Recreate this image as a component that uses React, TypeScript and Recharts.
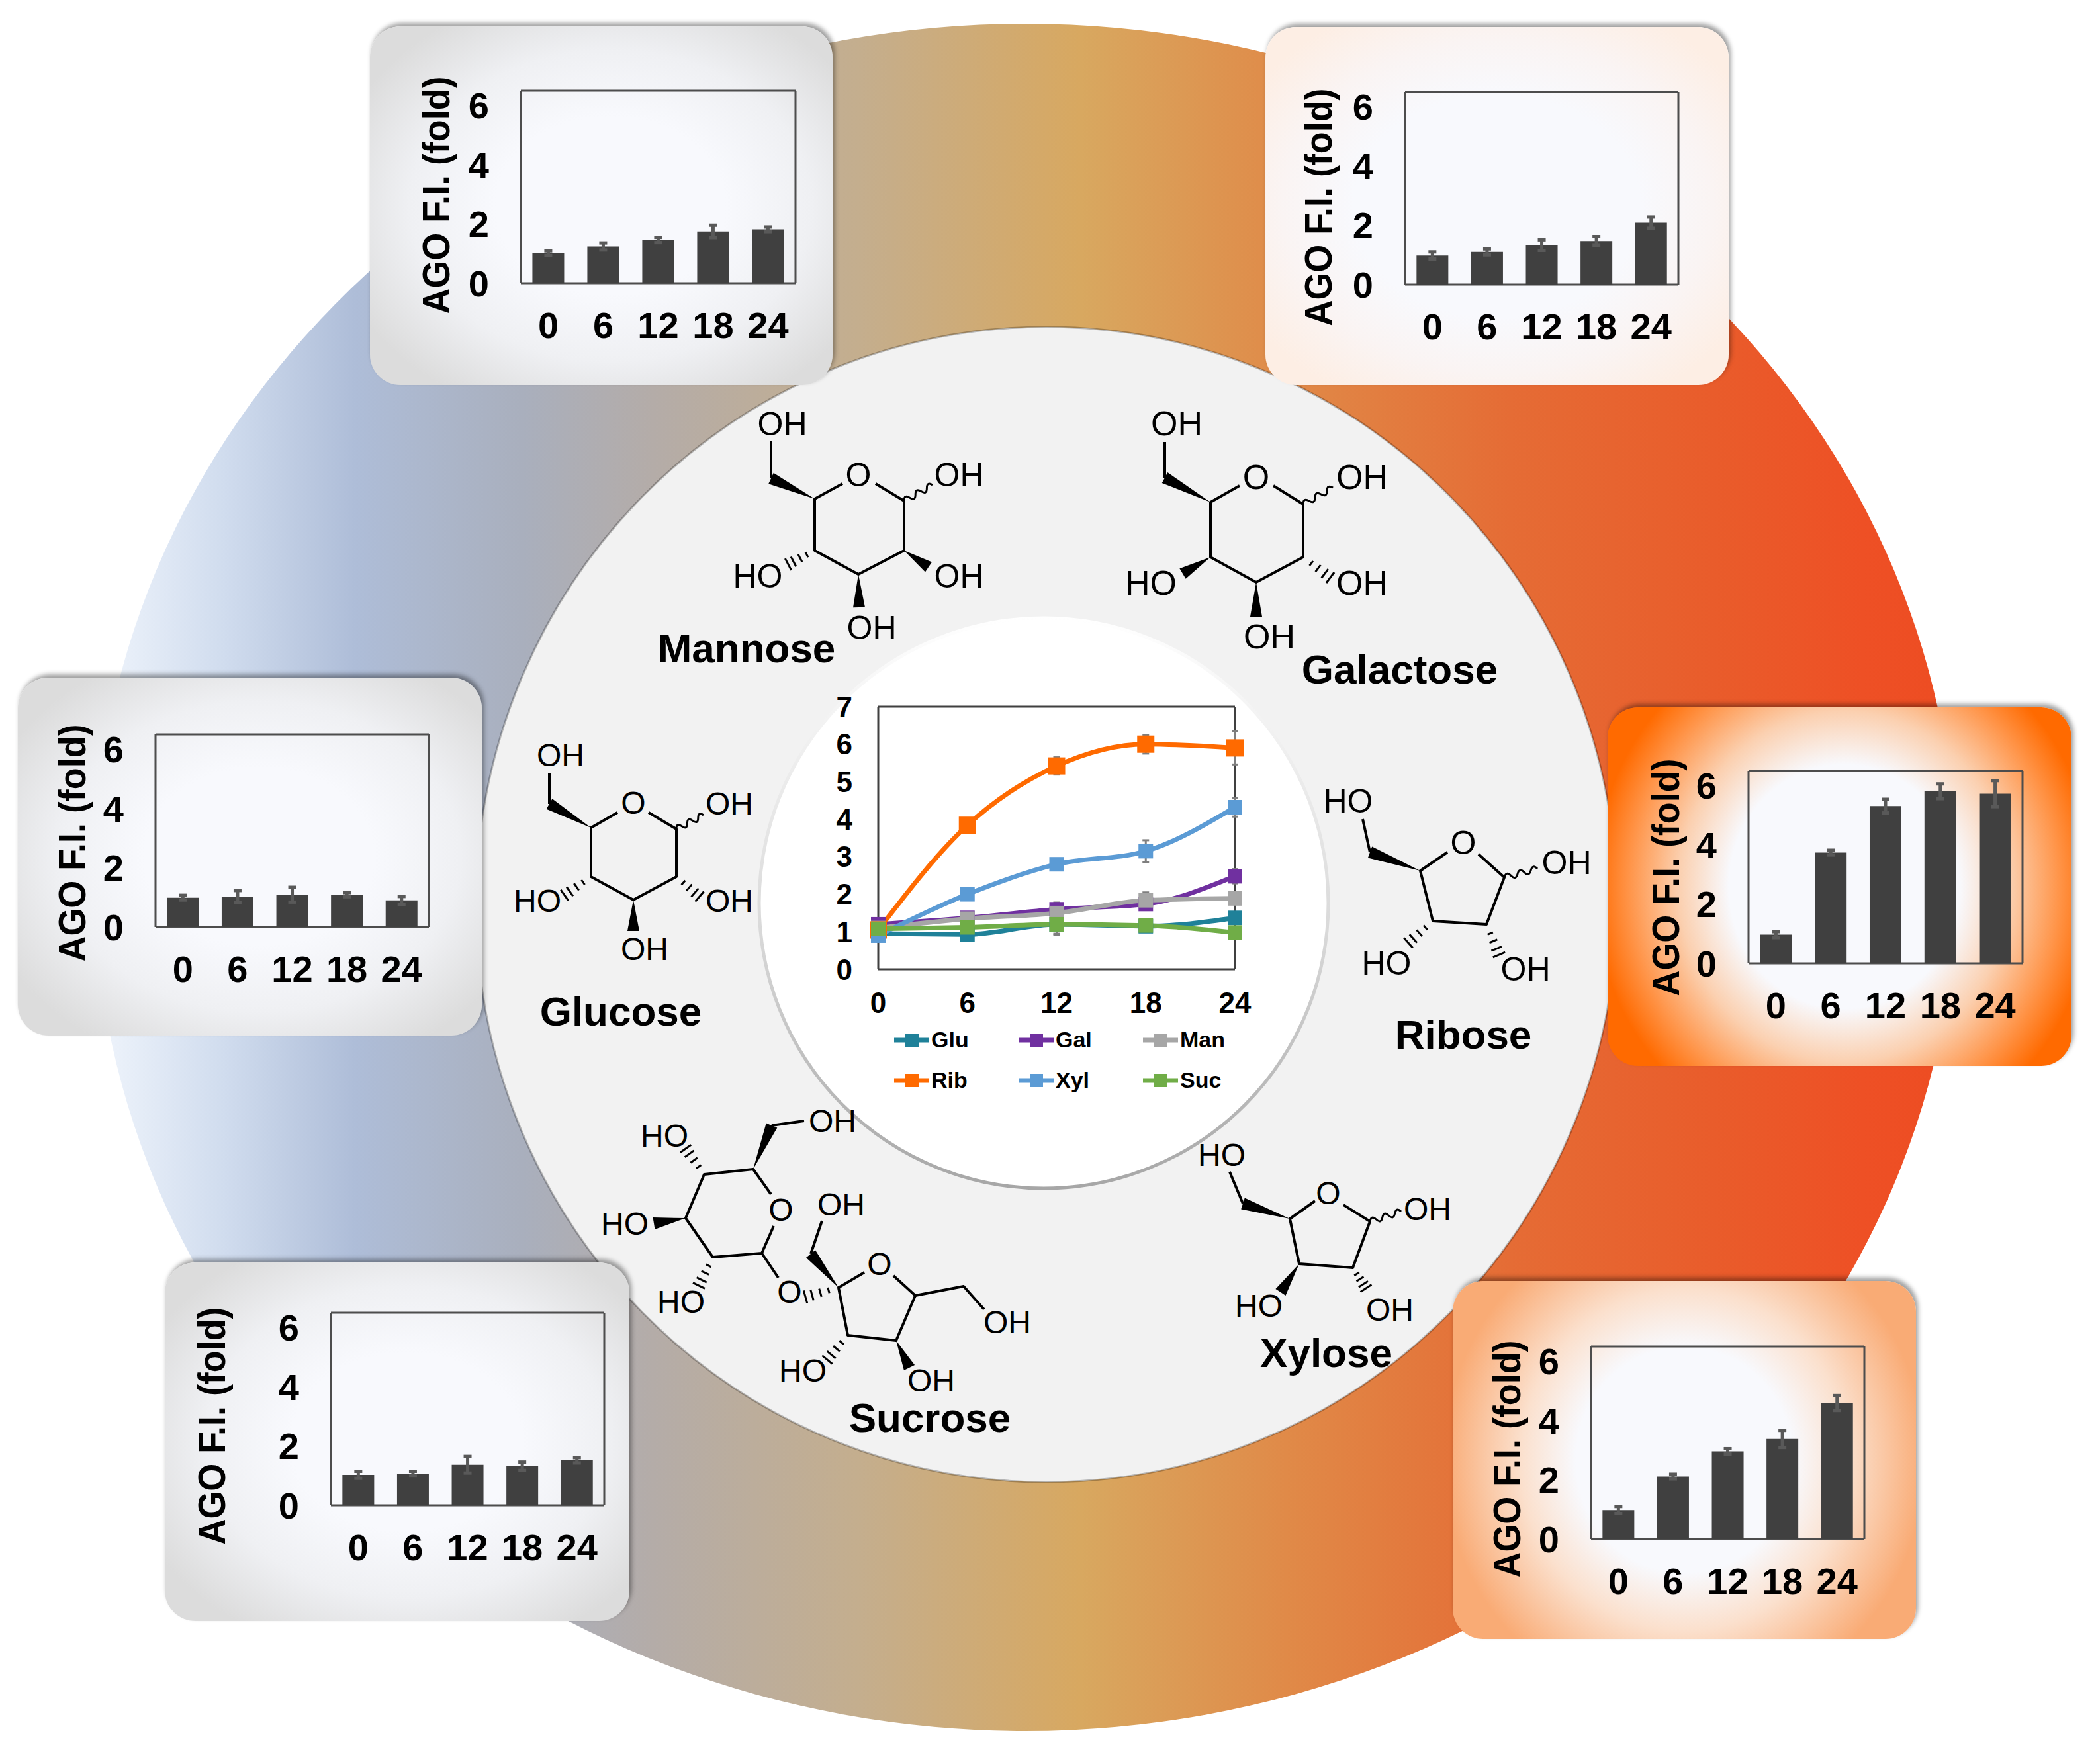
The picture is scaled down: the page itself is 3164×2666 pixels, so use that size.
import React from 'react';
import { BarChart, Bar, LineChart, Line, XAxis, YAxis, ErrorBar, CartesianGrid, Legend } from 'recharts';

const FONT = '"Liberation Sans", Arial, sans-serif';

const times = ['0', '6', '12', '18', '24'];
const barTicks = [0, 2, 4, 6];
const lineTicks = [0, 1, 2, 3, 4, 5, 6, 7];

// small bar panels
const manFold = [1.01, 1.24, 1.46, 1.75, 1.82];
const manErr = [0.08, 0.12, 0.09, 0.21, 0.08];
const galFold = [0.98, 1.1, 1.33, 1.47, 2.09];
const galErr = [0.12, 0.1, 0.18, 0.15, 0.19];
const gluFold = [0.99, 1.03, 1.09, 1.09, 0.9];
const gluErr = [0.08, 0.2, 0.25, 0.07, 0.13];
const ribFold = [0.97, 3.74, 5.31, 5.81, 5.73];
const ribErr = [0.1, 0.08, 0.23, 0.25, 0.44];
const sucFold = [1.03, 1.07, 1.37, 1.32, 1.52];
const sucErr = [0.12, 0.08, 0.28, 0.14, 0.09];
const xylFold = [0.98, 2.11, 2.96, 3.38, 4.59];
const xylErr = [0.12, 0.08, 0.09, 0.29, 0.25];

// centre line chart
const gluLine = [0.95, 0.93, 1.2, 1.15, 1.37];
const galLine = [1.2, 1.37, 1.6, 1.74, 2.48];
const manLine = [1.1, 1.35, 1.5, 1.84, 1.89];
const ribLine = [1.05, 3.84, 5.42, 6.0, 5.9];
const xylLine = [0.9, 2.0, 2.8, 3.15, 4.32];
const sucLine = [1.08, 1.12, 1.2, 1.17, 0.98];

const lineTable = times.map((time, i) => ({
  time,
  Glu: gluLine[i], GluErr: sucErr[i],
  Gal: galLine[i], GalErr: galErr[i],
  Man: manLine[i], ManErr: manErr[i],
  Rib: ribLine[i], RibErr: ribErr[i],
  Xyl: xylLine[i], XylErr: xylErr[i],
  Suc: sucLine[i], SucErr: gluErr[i],
}));

const GREY_BG = 'radial-gradient(ellipse 62% 62% at 52% 50%, #f8f9fd 40%, #eff0f3 70%, #dcdcdc 100%)';

const panels = [
  { key: 'man', x: 559, y: 40, w: 699, h: 542, plot: [787, 137, 1202, 428], titleX: 659, titleY: 295, fold: manFold, err: manErr, bg: GREY_BG },
  { key: 'gal', x: 1912, y: 41, w: 700, h: 541, plot: [2123, 139, 2536, 430], titleX: 1992, titleY: 313, fold: galFold, err: galErr, bg: 'radial-gradient(ellipse 62% 62% at 50% 50%, #f8f9fd 50%, #faf4f3 75%, #fdeee4 100%)' },
  { key: 'glu', x: 27, y: 1024, w: 701, h: 541, plot: [235, 1110, 648, 1401], titleX: 109, titleY: 1274, fold: gluFold, err: gluErr, bg: GREY_BG },
  { key: 'rib', x: 2429, y: 1069, w: 701, h: 542, plot: [2642, 1165, 3056, 1456], titleX: 2517, titleY: 1326, fold: ribFold, err: ribErr, bg: 'radial-gradient(ellipse 54% 74% at 51% 50%, #f8f9fd 46%, #fbd0b0 66%, #ff9448 86%, #ff6a00 100%)' },
  { key: 'suc', x: 249, y: 1908, w: 702, h: 542, plot: [500, 1984, 913, 2275], titleX: 320, titleY: 2155, fold: sucFold, err: sucErr, bg: GREY_BG },
  { key: 'xyl', x: 2195, y: 1936, w: 700, h: 541, plot: [2404, 2035, 2817, 2326], titleX: 2277, titleY: 2205, fold: xylFold, err: xylErr, bg: 'radial-gradient(ellipse 52% 70% at 50% 50%, #f8f9fd 45%, #fbe0cd 68%, #f9ab75 100%)' },
];

const lineSeries = [
  { key: 'Glu', color: '#1f8199', size: 22 },
  { key: 'Gal', color: '#7030a0', size: 22 },
  { key: 'Man', color: '#a6a6a6', size: 22 },
  { key: 'Rib', color: '#ff6a00', size: 26 },
  { key: 'Xyl', color: '#5b9bd5', size: 22 },
  { key: 'Suc', color: '#70ad47', size: 22 },
];
const legendOrder = lineSeries.map((s) => s.key);

type Seg = number[];
interface Molecule {
  size: number;
  bonds: Seg[]; // polylines
  wedges: Seg[];
  hashes: Seg[];
  wavy: Seg[];
  labels: [string, number, number][];
}

const molecules: Molecule[] = [
  { // mannose
    size: 50,
    bonds: [[1165, 723, 1165, 667], [1273, 731, 1231, 754, 1231, 832, 1297, 868, 1366, 832, 1366, 757, 1323, 731]],
    wedges: [[1231, 754, 1165, 723], [1366, 832, 1403, 857], [1297, 868, 1298, 918]],
    hashes: [[1231, 832, 1191, 853]],
    wavy: [[1366, 757, 1409, 733]],
    labels: [['OH', 1182, 640], ['O', 1297, 717], ['OH', 1449, 717], ['OH', 1449, 870], ['OH', 1317, 948], ['HO', 1145, 870]],
  },
  { // galactose
    size: 52,
    bonds: [[1760, 722, 1760, 668], [1873, 734, 1829, 759, 1829, 842, 1898, 880, 1969, 842, 1969, 762, 1924, 734]],
    wedges: [[1829, 759, 1760, 722], [1898, 880, 1898, 932], [1829, 842, 1787, 867]],
    hashes: [[1969, 842, 2010, 873]],
    wavy: [[1969, 762, 2014, 737]],
    labels: [['OH', 1778, 639], ['O', 1898, 720], ['OH', 2058, 720], ['OH', 2058, 880], ['OH', 1918, 961], ['HO', 1739, 880]],
  },
  { // glucose
    size: 48,
    bonds: [[830, 1215, 830, 1168], [933, 1228, 893, 1251, 893, 1325, 957, 1360, 1022, 1325, 1022, 1253, 980, 1228]],
    wedges: [[893, 1251, 830, 1215], [957, 1360, 957, 1407]],
    hashes: [[1022, 1325, 1057, 1355], [893, 1325, 853, 1353]],
    wavy: [[1022, 1253, 1063, 1232]],
    labels: [['OH', 847, 1141], ['O', 957, 1213], ['OH', 1102, 1214], ['OH', 1102, 1361], ['OH', 974, 1434], ['HO', 812, 1361]],
  },
  { // ribose
    size: 50,
    bonds: [[2070, 1288, 2059, 1238], [2187, 1288, 2146, 1316, 2165, 1392, 2246, 1397, 2273, 1326, 2234, 1291]],
    wedges: [[2146, 1316, 2070, 1288]],
    hashes: [[2246, 1397, 2265, 1443], [2165, 1392, 2128, 1425]],
    wavy: [[2273, 1326, 2323, 1313]],
    labels: [['HO', 2037, 1210], ['O', 2211, 1273], ['OH', 2367, 1303], ['OH', 2305, 1464], ['HO', 2095, 1455]],
  },
  { // xylose
    size: 48,
    bonds: [[1878, 1819, 1858, 1771], [1987, 1815, 1949, 1842, 1963, 1910, 2044, 1916, 2070, 1846, 2030, 1821]],
    wedges: [[1949, 1842, 1878, 1819], [1963, 1910, 1935, 1953]],
    hashes: [[2044, 1916, 2064, 1947]],
    wavy: [[2070, 1846, 2117, 1831]],
    labels: [['HO', 1846, 1745], ['O', 2007, 1803], ['OH', 2157, 1827], ['OH', 2100, 1979], ['HO', 1902, 1973]],
  },
  { // sucrose
    size: 48,
    bonds: [
      [1166, 1701, 1215, 1694], [1165, 1805, 1138, 1767, 1064, 1775, 1036, 1841, 1077, 1900, 1151, 1894, 1169, 1853],
      [1151, 1894, 1176, 1931], [1225, 1895, 1242, 1845],
      [1306, 1923, 1267, 1946, 1281, 2018, 1354, 2026, 1383, 1958, 1350, 1928], [1383, 1958, 1456, 1944, 1487, 1979],
    ],
    wedges: [[1138, 1767, 1166, 1701], [1036, 1841, 988, 1849], [1267, 1946, 1225, 1895], [1354, 2026, 1374, 2067]],
    hashes: [[1064, 1775, 1036, 1736], [1077, 1900, 1056, 1943], [1267, 1946, 1217, 1960], [1281, 2018, 1250, 2055]],
    wavy: [],
    labels: [
      ['OH', 1258, 1694], ['HO', 1004, 1716], ['HO', 944, 1849], ['O', 1180, 1828], ['HO', 1029, 1967], ['O', 1193, 1952],
      ['O', 1329, 1910], ['OH', 1271, 1820], ['OH', 1522, 1998], ['OH', 1407, 2086], ['HO', 1213, 2071],
    ],
  },
];

const sugarNames: [string, number, number][] = [
  ['Mannose', 1128, 979],
  ['Galactose', 2115, 1011],
  ['Glucose', 938, 1528],
  ['Ribose', 2211, 1563],
  ['Xylose', 2004, 2044],
  ['Sucrose', 1405, 2142],
];

const wedgePoints = ([x1, y1, x2, y2]: Seg, w = 9) => {
  const len = Math.hypot(x2 - x1, y2 - y1);
  const nx = (-(y2 - y1) / len) * w;
  const ny = ((x2 - x1) / len) * w;
  return `${x1},${y1} ${x2 + nx},${y2 + ny} ${x2 - nx},${y2 - ny}`;
};

const Hashes = ({ seg }: { seg: Seg }) => {
  const [x1, y1, x2, y2] = seg;
  const len = Math.hypot(x2 - x1, y2 - y1);
  const nx = -(y2 - y1) / len;
  const ny = (x2 - x1) / len;
  return (
    <g stroke="#000" strokeWidth={3}>
      {[0.3, 0.55, 0.8, 1].map((t) => {
        const cx = x1 + (x2 - x1) * t;
        const cy = y1 + (y2 - y1) * t;
        const half = 2 + t * 8;
        return <line key={t} x1={cx + nx * half} y1={cy + ny * half} x2={cx - nx * half} y2={cy - ny * half} />;
      })}
    </g>
  );
};

const wavyPath = ([x1, y1, x2, y2]: Seg) => {
  const n = 5;
  const len = Math.hypot(x2 - x1, y2 - y1);
  const nx = (-(y2 - y1) / len) * 9;
  const ny = ((x2 - x1) / len) * 9;
  let d = `M${x1},${y1}`;
  for (let i = 0; i < n; i++) {
    const s = i % 2 ? 1 : -1;
    const mx = x1 + ((x2 - x1) * (i + 0.5)) / n + nx * s;
    const my = y1 + ((y2 - y1) * (i + 0.5)) / n + ny * s;
    const ex = x1 + ((x2 - x1) * (i + 1)) / n;
    const ey = y1 + ((y2 - y1) * (i + 1)) / n;
    d += `Q${mx},${my} ${ex},${ey}`;
  }
  return d;
};

const MoleculeDrawing = ({ m }: { m: Molecule }) => (
  <g>
    {m.bonds.map((b, i) => (
      <polyline key={i} points={b.join(',')} fill="none" stroke="#000" strokeWidth={4} strokeLinejoin="round" />
    ))}
    {m.wedges.map((w, i) => (
      <polygon key={i} points={wedgePoints(w)} fill="#000" />
    ))}
    {m.hashes.map((h, i) => (
      <Hashes key={i} seg={h} />
    ))}
    {m.wavy.map((w, i) => (
      <path key={i} d={wavyPath(w)} fill="none" stroke="#000" strokeWidth={3} />
    ))}
    {m.labels.map(([t, x, y], i) => (
      <text key={i} x={x} y={y + m.size * 0.36} textAnchor="middle" fontFamily={FONT} fontSize={m.size} fill="#000">
        {t}
      </text>
    ))}
  </g>
);

const Backdrop = () => (
  <svg width={3164} height={2666} style={{ position: 'absolute', left: 0, top: 0 }}>
    <defs>
      <linearGradient id="ring" x1="0" x2="1" y1="0" y2="0">
        <stop offset="0%" stopColor="#f0f5fc" />
        <stop offset="7%" stopColor="#d0dcee" />
        <stop offset="14%" stopColor="#aebdd8" />
        <stop offset="23%" stopColor="#a9afbd" />
        <stop offset="30%" stopColor="#b4aca8" />
        <stop offset="41%" stopColor="#c4ae8e" />
        <stop offset="53%" stopColor="#d8a860" />
        <stop offset="64%" stopColor="#e08a48" />
        <stop offset="76%" stopColor="#e56c35" />
        <stop offset="87%" stopColor="#e95c2b" />
        <stop offset="95%" stopColor="#ee5025" />
        <stop offset="100%" stopColor="#ed4c22" />
      </linearGradient>
      <linearGradient id="rim" x1="0" x2="0" y1="0" y2="1">
        <stop offset="0%" stopColor="#ffffff" />
        <stop offset="55%" stopColor="#d9d9d9" />
        <stop offset="100%" stopColor="#a6a6a6" />
      </linearGradient>
    </defs>
    <ellipse cx={1549} cy={1326} rx={1407} ry={1290} fill="url(#ring)" />
    <ellipse cx={1581} cy={1367} rx={862} ry={873} fill="#f2f2f2" stroke="#000" strokeOpacity={0.25} strokeWidth={3} />
    <ellipse cx={1577} cy={1365} rx={430} ry={431} fill="#fff" stroke="url(#rim)" strokeWidth={5} />
    {molecules.map((m, i) => (
      <MoleculeDrawing key={i} m={m} />
    ))}
    {sugarNames.map(([t, x, y]) => (
      <text key={t} x={x} y={y + 22} textAnchor="middle" fontFamily={FONT} fontWeight={700} fontSize={62} fill="#000">
        {t}
      </text>
    ))}
  </svg>
);

const AXIS_W = 120;
const AXIS_H = 110;

const FoldPanel = ({ p }: { p: (typeof panels)[number] }) => {
  const [left, top, right, bottom] = p.plot;
  const data = times.map((time, i) => ({ time, fold: p.fold[i], err: p.err[i] }));
  const tickStyle = { fontFamily: FONT, fontWeight: 700, fontSize: 56, fill: '#000' };
  const title = () => (
    <text
      transform={`translate(${p.titleX - p.x + 20},${p.titleY - p.y}) rotate(-90)`}
      textAnchor="middle"
      fontFamily={FONT}
      fontWeight={700}
      fontSize={57}
      fill="#000"
      textLength={359}
      lengthAdjust="spacingAndGlyphs"
    >
      AGO F.I. (fold)
    </text>
  );
  return (
    <div
      style={{
        position: 'absolute',
        left: p.x,
        top: p.y,
        width: p.w,
        height: p.h,
        borderRadius: 46,
        background: p.bg,
        boxShadow: '3px -5px 7px rgba(0,0,0,0.38)',
      }}
    >
      <BarChart
        width={p.w}
        height={p.h}
        data={data}
        barCategoryGap="21%"
        margin={{ top: top - p.y, left: left - p.x - AXIS_W, right: p.x + p.w - right, bottom: p.y + p.h - bottom - AXIS_H }}
      >
        <CartesianGrid
          horizontalPoints={[top - p.y, bottom - p.y]}
          verticalPoints={[left - p.x, right - p.x]}
          stroke="#4d4d4d"
          strokeWidth={3}
        />
        <XAxis
          dataKey="time"
          height={AXIS_H}
          interval={0}
          tickLine={false}
          tickSize={0}
          tickMargin={43}
          axisLine={false}
          tick={tickStyle}
        />
        <YAxis
          width={AXIS_W}
          domain={[0, 6.5]}
          ticks={barTicks}
          interval={0}
          tickLine={false}
          tickSize={0}
          tickMargin={48}
          axisLine={false}
          tick={tickStyle}
          label={title}
        />
        <Bar dataKey="fold" fill="#404040" isAnimationActive={false}>
          <ErrorBar dataKey="err" direction="y" width={6} stroke="#595959" strokeWidth={5} isAnimationActive={false} />
        </Bar>
      </BarChart>
    </div>
  );
};

const SquareDot = (size: number, color: string) => (props: any) => {
  const { cx, cy, index } = props;
  return <rect key={index} x={cx - size / 2} y={cy - size / 2} width={size} height={size} fill={color} />;
};

const renderLegend = ({ payload }: any) => {
  const items = [...(payload || [])].sort((a: any, b: any) => legendOrder.indexOf(a.value) - legendOrder.indexOf(b.value));
  return (
    <div style={{ display: 'grid', gridTemplateColumns: '188px 188px 188px', gridAutoRows: '61px', alignItems: 'center' }}>
      {items.map((entry: any) => (
        <div key={entry.value} style={{ display: 'flex', alignItems: 'center' }}>
          <svg width={56} height={24} style={{ flex: 'none' }}>
            <line x1={0} x2={53} y1={12} y2={12} stroke={entry.color} strokeWidth={7} />
            <rect x={17} y={2} width={20} height={20} fill={entry.color} />
          </svg>
          <span style={{ fontFamily: FONT, fontWeight: 700, fontSize: 34, color: '#000' }}>{entry.value}</span>
        </div>
      ))}
    </div>
  );
};

const CentreChart = () => {
  const box = { x: 1180, y: 1030, w: 810, h: 650 };
  const tickStyle = { fontFamily: FONT, fontWeight: 700, fontSize: 44, fill: '#000' };
  const [left, top, right, bottom] = [1327, 1068, 1866, 1465];
  return (
    <div style={{ position: 'absolute', left: box.x, top: box.y }}>
      <LineChart
        width={box.w}
        height={box.h}
        data={lineTable}
        margin={{ top: top - box.y, left: left - box.x - 100, right: box.x + box.w - right, bottom: box.y + box.h - bottom - 80 }}
      >
        <CartesianGrid
          horizontalPoints={[top - box.y, bottom - box.y]}
          verticalPoints={[left - box.x, right - box.x]}
          stroke="#404040"
          strokeWidth={3}
        />
        <XAxis dataKey="time" height={80} interval={0} tickLine={false} tickSize={0} tickMargin={35} axisLine={false} tick={tickStyle} />
        <YAxis width={100} domain={[0, 7]} ticks={lineTicks} interval={0} tickLine={false} tickSize={0} tickMargin={39} axisLine={false} tick={tickStyle} />
        {lineSeries.map((s) => (
          <Line
            key={s.key}
            type="monotone"
            dataKey={s.key}
            stroke={s.color}
            strokeWidth={7}
            dot={SquareDot(s.size, s.color)}
            isAnimationActive={false}
          >
            <ErrorBar dataKey={`${s.key}Err`} direction="y" width={5} stroke="#7f7f7f" strokeWidth={3} isAnimationActive={false} />
          </Line>
        ))}
        <Legend
          layout="horizontal"
          verticalAlign="middle"
          content={renderLegend}
          wrapperStyle={{ left: 171, top: 511, width: 570 }}
        />
      </LineChart>
    </div>
  );
};

export default function App() {
  return (
    <div style={{ position: 'absolute', left: 0, top: 0, width: 3164, height: 2666, background: '#fff', overflow: 'hidden' }}>
      <Backdrop />
      <CentreChart />
      {panels.map((p) => (
        <FoldPanel key={p.key} p={p} />
      ))}
    </div>
  );
}
